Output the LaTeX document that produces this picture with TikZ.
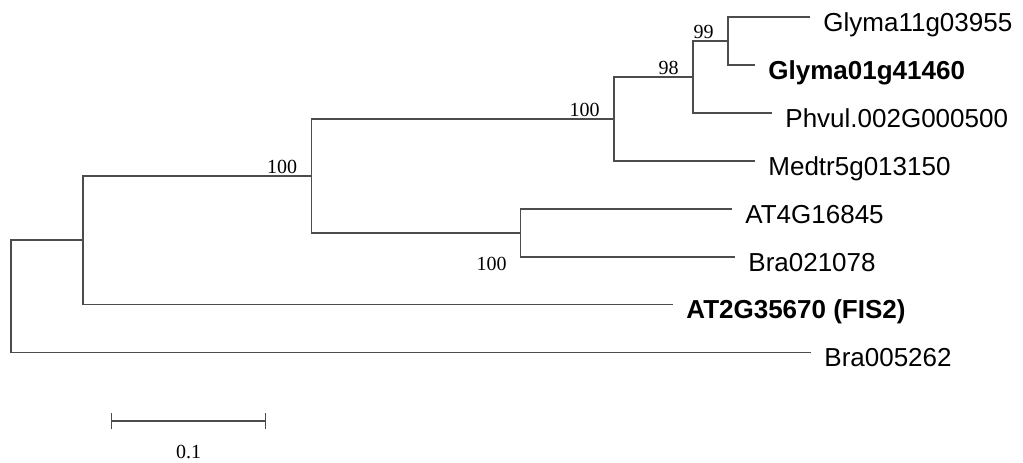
\documentclass[tikz,border=0pt]{standalone}
\usepackage{fontspec}
\newfontfamily\leaffont{Liberation Sans}
\newfontfamily\bootfont{Liberation Serif}
\usetikzlibrary{arrows.meta,positioning}

\begin{document}
\begin{tikzpicture}[x=0.5pt,y=-0.5pt,node distance=7pt,
  branch/.style={draw=black!70,line width=0.6pt},
  leaf/.style={inner sep=0pt,anchor=base west,font=\leaffont\fontsize{13pt}{15pt}\selectfont},
  boot/.style={inner sep=0pt,font=\bootfont\fontsize{10pt}{12pt}\selectfont}]
\useasboundingbox (0,0) rectangle (1023,462);
% inner nodes
\coordinate (root) at (11,296);
\coordinate (nA) at (83,240);
\coordinate (nB) at (311.5,176);
\coordinate (nC) at (614,119);
\coordinate (nD) at (520.5,233);
\coordinate (n98) at (693,77);
\coordinate (n99) at (728,41);
% tips
\coordinate (t1) at (810,17);
\coordinate (t2) at (755,65);
\coordinate (t3) at (772,113);
\coordinate (t4) at (755,161);
\coordinate (t5) at (732,209);
\coordinate (t6) at (735,257);
\coordinate (t7) at (673,304.5);
\coordinate (t8) at (811,352.5);
% branches
\draw[branch] (root) |- (nA); \draw[branch] (root) |- (t8);
\draw[branch] (nA) |- (nB); \draw[branch] (nA) |- (t7);
\draw[branch] (nB) |- (nC); \draw[branch] (nB) |- (nD);
\draw[branch] (nC) |- (n98); \draw[branch] (nC) |- (t4);
\draw[branch] (n98) |- (n99); \draw[branch] (n98) |- (t3);
\draw[branch] (n99) |- (t1); \draw[branch] (n99) |- (t2);
\draw[branch] (nD) |- (t5); \draw[branch] (nD) |- (t6);
% leaves
\node[leaf] (l1) at ([shift={(13,14)}]t1) {Glyma11g03955};
\node[leaf] (l2) at ([shift={(13,14)}]t2) {\bfseries Glyma01g41460};
\node[leaf] (l3) at ([shift={(13,14)}]t3) {Phvul.002G000500};
\node[leaf] (l4) at ([shift={(13,14)}]t4) {Medtr5g013150};
\node[leaf] (l5) at ([shift={(13,14)}]t5) {AT4G16845};
\node[leaf] (l6) at ([shift={(13,14)}]t6) {Bra021078};
\node[leaf] (l7) at ([shift={(13,14)}]t7) {\bfseries AT2G35670 (FIS2)};
\node[leaf] (l8) at ([shift={(13,14)}]t8) {Bra005262};
% bootstrap
\node[boot,above left=1pt and 7pt of n99] (b99) {99};
\node[boot,above left=1pt and 7pt of n98] (b98) {98};
\node[boot,above left=1pt and 7pt of nC] (bC) {100};
\node[boot,above left=1pt and 7pt of nB] (bB) {100};
\node[boot,below left=12pt and 6.75pt of nD] (bD) {100};
% scale bar
\coordinate (s0) at (111,421);
\coordinate (s1) at (266,421);
\draw[branch,{Bar[width=8pt]}-{Bar[width=8pt]}] (s0) -- node[boot,below=12pt] (unit) {0.1} (s1);
\end{tikzpicture}
\end{document}
